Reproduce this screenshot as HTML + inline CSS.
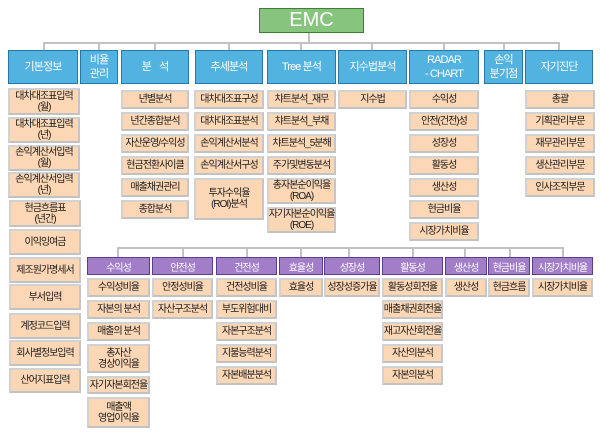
<!DOCTYPE html>
<html><head><meta charset="utf-8">
<style>
html,body{margin:0;padding:0;background:#fff;}
body{width:600px;height:435px;position:relative;overflow:hidden;font-family:"Liberation Sans","Noto Sans CJK KR",sans-serif;}
.b{position:absolute;display:flex;align-items:center;justify-content:center;text-align:center;box-sizing:border-box;white-space:nowrap;}
.h{background:#52b2e0;border:1.5px solid #2a76a4;color:#fff;font-size:11px;letter-spacing:-0.9px;line-height:14px;}
.p{background:#fcd7b6;border:2px solid #d2d2d2;border-bottom-color:#c2c2c2;border-right-color:#c6c6c6;color:#1a1a1a;font-size:10px;letter-spacing:-1px;line-height:11px;}
.u{background:#a27ec8;border:1.5px solid #5a3d8e;color:#fff;font-size:10px;letter-spacing:-1px;}
.g{background:#87c47e;border:1.5px solid #3e7e34;color:#fff;font-size:20px;}
.l{position:absolute;background:#c2c2c2;}
</style></head><body>

<!-- EMC -->
<div class="b g" style="left:259px;top:8px;width:105px;height:25px;">EMC</div>
<div class="l" style="left:308px;top:33px;width:2px;height:10px;"></div>
<div class="l" style="left:43px;top:42px;width:517px;height:2px;"></div>
<div class="l" style="left:43px;top:43px;width:2px;height:7px;"></div>
<div class="l" style="left:98px;top:43px;width:2px;height:7px;"></div>
<div class="l" style="left:154px;top:43px;width:2px;height:7px;"></div>
<div class="l" style="left:228px;top:43px;width:2px;height:7px;"></div>
<div class="l" style="left:300px;top:43px;width:2px;height:7px;"></div>
<div class="l" style="left:371px;top:43px;width:2px;height:7px;"></div>
<div class="l" style="left:443px;top:43px;width:2px;height:7px;"></div>
<div class="l" style="left:503px;top:43px;width:2px;height:7px;"></div>
<div class="l" style="left:558px;top:43px;width:2px;height:7px;"></div>

<!-- headers -->
<div class="b h" style="left:8px;top:50px;width:70px;height:34px;">기본정보</div>
<div class="b h" style="left:80px;top:50px;width:38px;height:34px;">비율<br>관리</div>
<div class="b h" style="left:121px;top:50px;width:68px;height:34px;word-spacing:6px;">분 석</div>
<div class="b h" style="left:195px;top:50px;width:68px;height:34px;">추세분석</div>
<div class="b h" style="left:267px;top:50px;width:69px;height:34px;">Tree 분석</div>
<div class="b h" style="left:338px;top:50px;width:69px;height:34px;">지수법분석</div>
<div class="b h" style="left:409px;top:50px;width:70px;height:34px;">RADAR<br>- CHART</div>
<div class="b h" style="left:484px;top:50px;width:39px;height:34px;">손익<br>분기점</div>
<div class="b h" style="left:525px;top:50px;width:68px;height:34px;">자기진단</div>

<!-- left column -->
<div class="b p" style="left:8px;top:88px;width:72px;height:27px;">대차대조표입력<br>(월)</div>
<div class="b p" style="left:8px;top:117px;width:72px;height:26px;">대차대조표입력<br>(년)</div>
<div class="b p" style="left:8px;top:145px;width:72px;height:26px;">손익계산서입력<br>(월)</div>
<div class="b p" style="left:8px;top:172px;width:72px;height:26px;">손익계산서입력<br>(년)</div>
<div class="b p" style="left:9px;top:200px;width:72px;height:27px;">현금흐름표<br>(년간)</div>
<div class="b p" style="left:9px;top:229px;width:72px;height:26px;">이익잉여금</div>
<div class="b p" style="left:9px;top:257px;width:72px;height:26px;">제조원가명세서</div>
<div class="b p" style="left:9px;top:284px;width:72px;height:26px;">부서입력</div>
<div class="b p" style="left:9px;top:313px;width:72px;height:26px;">계정코드입력</div>
<div class="b p" style="left:9px;top:340px;width:72px;height:26px;">회사별정보입력</div>
<div class="b p" style="left:9px;top:368px;width:72px;height:25px;">산어지표입력</div>

<!-- 분석 -->
<div class="b p" style="left:121px;top:90px;width:68px;height:19px;">년별분석</div>
<div class="b p" style="left:121px;top:112px;width:68px;height:19px;">년간종합분석</div>
<div class="b p" style="left:121px;top:134px;width:68px;height:19px;">자산운영/수익성</div>
<div class="b p" style="left:121px;top:156px;width:68px;height:19px;">현금전환사이클</div>
<div class="b p" style="left:121px;top:178px;width:68px;height:19px;">매출채권관리</div>
<div class="b p" style="left:121px;top:200px;width:68px;height:19px;">종합분석</div>

<!-- 추세분석 -->
<div class="b p" style="left:194px;top:90px;width:70px;height:19px;">대차대조표구성</div>
<div class="b p" style="left:194px;top:112px;width:70px;height:19px;">대차대조표분석</div>
<div class="b p" style="left:194px;top:134px;width:70px;height:19px;">손익계산서분석</div>
<div class="b p" style="left:194px;top:156px;width:70px;height:19px;">손익계산서구성</div>
<div class="b p" style="left:194px;top:178px;width:70px;height:42px;">투자수익율<br>(ROI)분석</div>

<!-- Tree -->
<div class="b p" style="left:267px;top:90px;width:69px;height:19px;">챠트분석_재무</div>
<div class="b p" style="left:267px;top:112px;width:69px;height:19px;">챠트분석_부채</div>
<div class="b p" style="left:267px;top:134px;width:69px;height:19px;">챠트분석_5분해</div>
<div class="b p" style="left:267px;top:156px;width:69px;height:19px;">주가및변동분석</div>
<div class="b p" style="left:267px;top:178px;width:69px;height:26px;">총자본순이익율<br>(ROA)</div>
<div class="b p" style="left:267px;top:207px;width:69px;height:26px;">자기자본순이익율<br>(ROE)</div>

<!-- 지수법 -->
<div class="b p" style="left:338px;top:90px;width:69px;height:19px;">지수법</div>

<!-- RADAR -->
<div class="b p" style="left:409px;top:90px;width:70px;height:19px;">수익성</div>
<div class="b p" style="left:409px;top:112px;width:70px;height:19px;">안전(건전)성</div>
<div class="b p" style="left:409px;top:134px;width:70px;height:19px;">성장성</div>
<div class="b p" style="left:409px;top:156px;width:70px;height:19px;">활동성</div>
<div class="b p" style="left:409px;top:178px;width:70px;height:19px;">생산성</div>
<div class="b p" style="left:409px;top:200px;width:70px;height:19px;">현금비율</div>
<div class="b p" style="left:409px;top:222px;width:70px;height:19px;">시장가치비율</div>

<!-- 자기진단 -->
<div class="b p" style="left:525px;top:90px;width:70px;height:19px;">총괄</div>
<div class="b p" style="left:525px;top:112px;width:70px;height:19px;">기획관리부문</div>
<div class="b p" style="left:525px;top:134px;width:70px;height:19px;">재무관리부문</div>
<div class="b p" style="left:525px;top:156px;width:70px;height:19px;">생산관리부문</div>
<div class="b p" style="left:525px;top:178px;width:70px;height:19px;">인사조직부문</div>

<!-- bottom connector -->
<div class="l" style="left:117px;top:247px;width:447px;height:2px;"></div>
<div class="l" style="left:117px;top:248px;width:2px;height:9px;"></div>
<div class="l" style="left:182px;top:248px;width:2px;height:9px;"></div>
<div class="l" style="left:246px;top:248px;width:2px;height:9px;"></div>
<div class="l" style="left:300px;top:248px;width:2px;height:9px;"></div>
<div class="l" style="left:348px;top:248px;width:2px;height:9px;"></div>
<div class="l" style="left:412px;top:248px;width:2px;height:9px;"></div>
<div class="l" style="left:464px;top:248px;width:2px;height:9px;"></div>
<div class="l" style="left:509px;top:248px;width:2px;height:9px;"></div>
<div class="l" style="left:562px;top:248px;width:2px;height:9px;"></div>

<!-- purple headers -->
<div class="b u" style="left:87px;top:257px;width:63px;height:18px;">수익성</div>
<div class="b u" style="left:152px;top:257px;width:61px;height:18px;">안전성</div>
<div class="b u" style="left:216px;top:257px;width:61px;height:18px;">건전성</div>
<div class="b u" style="left:279px;top:257px;width:44px;height:18px;">효율성</div>
<div class="b u" style="left:324px;top:257px;width:56px;height:18px;">성장성</div>
<div class="b u" style="left:382px;top:257px;width:61px;height:18px;">활동성</div>
<div class="b u" style="left:445px;top:257px;width:42px;height:18px;">생산성</div>
<div class="b u" style="left:488px;top:257px;width:42px;height:18px;">현금비율</div>
<div class="b u" style="left:532px;top:257px;width:61px;height:18px;">시장가치비율</div>

<!-- 수익성 column -->
<div class="b p" style="left:87px;top:278px;width:63px;height:19px;">수익성비율</div>
<div class="b p" style="left:87px;top:300px;width:63px;height:19px;">자본의 분석</div>
<div class="b p" style="left:87px;top:322px;width:63px;height:19px;">매출의 분석</div>
<div class="b p" style="left:87px;top:344px;width:63px;height:29px;">총자산<br>경상이익율</div>
<div class="b p" style="left:87px;top:376px;width:63px;height:18px;">자기자본회전율</div>
<div class="b p" style="left:87px;top:397px;width:63px;height:31px;">매출액<br>영업이익율</div>

<!-- 안전성 -->
<div class="b p" style="left:152px;top:278px;width:61px;height:19px;">안정성비율</div>
<div class="b p" style="left:152px;top:300px;width:61px;height:19px;">자산구조분석</div>

<!-- 건전성 -->
<div class="b p" style="left:216px;top:278px;width:61px;height:19px;">건전성비율</div>
<div class="b p" style="left:216px;top:300px;width:61px;height:19px;">부도위험대비</div>
<div class="b p" style="left:216px;top:322px;width:61px;height:19px;">자본구조분석</div>
<div class="b p" style="left:216px;top:344px;width:61px;height:19px;">지불능력분석</div>
<div class="b p" style="left:216px;top:366px;width:61px;height:19px;">자본배분분석</div>

<!-- 효율성 -->
<div class="b p" style="left:279px;top:278px;width:44px;height:19px;">효율성</div>
<!-- 성장성 -->
<div class="b p" style="left:324px;top:278px;width:56px;height:19px;">성장성증가율</div>

<!-- 활동성 -->
<div class="b p" style="left:382px;top:278px;width:61px;height:19px;">활동성회전율</div>
<div class="b p" style="left:382px;top:300px;width:61px;height:19px;">매출채권회전율</div>
<div class="b p" style="left:382px;top:322px;width:61px;height:19px;">재고자산회전율</div>
<div class="b p" style="left:382px;top:344px;width:61px;height:19px;">자산의분석</div>
<div class="b p" style="left:382px;top:366px;width:61px;height:19px;">자본의분석</div>

<!-- 생산성 / 현금비율 / 시장가치비율 -->
<div class="b p" style="left:445px;top:278px;width:42px;height:19px;">생산성</div>
<div class="b p" style="left:488px;top:278px;width:42px;height:19px;">현금흐름</div>
<div class="b p" style="left:532px;top:278px;width:61px;height:19px;">시장가치비율</div>

</body></html>
